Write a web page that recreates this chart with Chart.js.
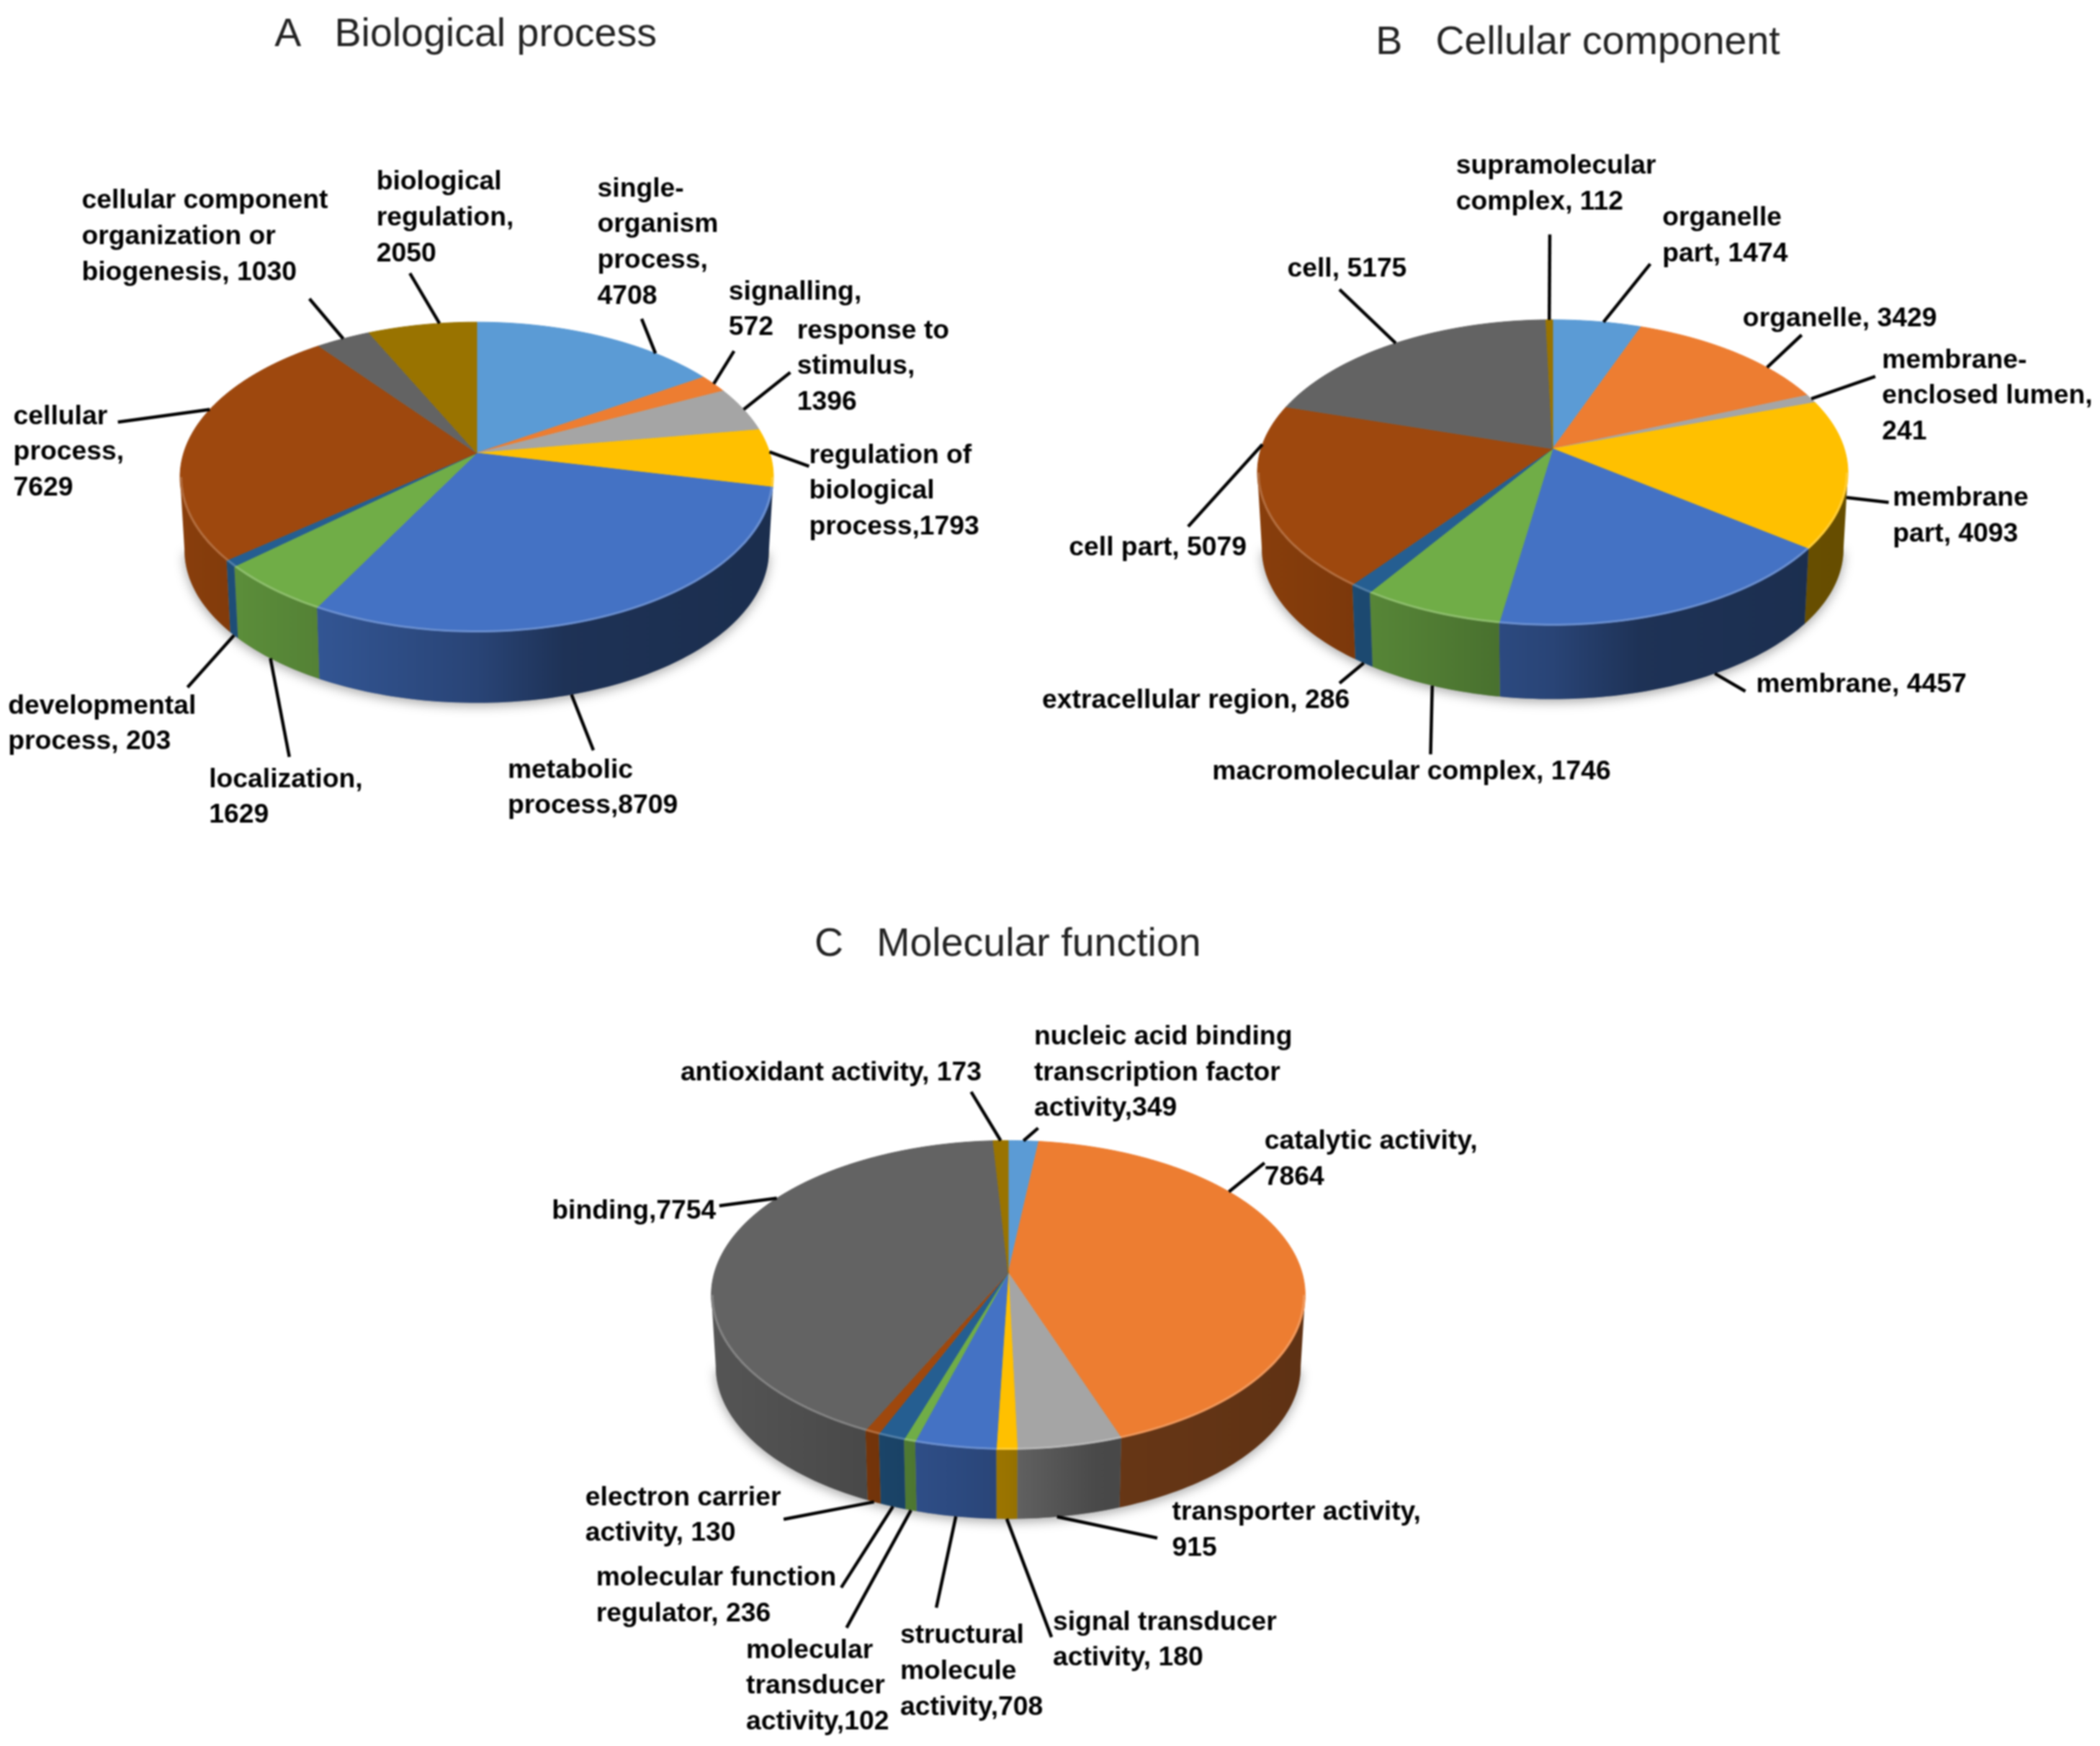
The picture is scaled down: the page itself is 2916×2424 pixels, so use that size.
<!DOCTYPE html>
<html>
<head>
<meta charset="utf-8">
<title>GO classification</title>
<script src="https://cdn.jsdelivr.net/npm/chart.js@4/dist/chart.umd.min.js"></script>
<style>
	html, body { margin: 0; padding: 0; background: #fff; }
	#wrap { position: relative; width: 2916px; height: 2424px; overflow: hidden; filter: blur(0.9px); }
	canvas { position: absolute; left: 0; top: 0; }
</style>
</head>
<body>
<div id="wrap">
	<canvas id="chartA" width="2916" height="2424"></canvas>
	<canvas id="chartB" width="2916" height="2424"></canvas>
	<canvas id="chartC" width="2916" height="2424"></canvas>
</div>
<script>
// DATA
const sliceColors = ["#5B9BD5", "#ED7D31", "#A5A5A5", "#FFC000", "#4472C4", "#70AD47", "#255E91", "#9E480E", "#636363", "#997300"];

const bpTitle = "A   Biological process";
const bpLabels = [
	["single-", "organism", "process,", "4708"],
	["signalling,", "572"],
	["response to", "stimulus,", "1396"],
	["regulation of", "biological", "process,1793"],
	["metabolic", "process,8709"],
	["localization,", "1629"],
	["developmental", "process, 203"],
	["cellular", "process,", "7629"],
	["cellular component", "organization or", "biogenesis, 1030"],
	["biological", "regulation,", "2050"],
];
const bpValues = [4708, 572, 1396, 1793, 8709, 1629, 203, 7629, 1030, 2050];

const ccTitle = "B   Cellular component";
const ccLabels = [
	["organelle", "part, 1474"],
	["organelle, 3429"],
	["membrane-", "enclosed lumen,", "241"],
	["membrane", "part, 4093"],
	["membrane, 4457"],
	["macromolecular complex, 1746"],
	["extracellular region, 286"],
	["cell part, 5079"],
	["cell, 5175"],
	["supramolecular", "complex, 112"],
];
const ccValues = [1474, 3429, 241, 4093, 4457, 1746, 286, 5079, 5175, 112];

const mfTitle = "C   Molecular function";
const mfLabels = [
	["nucleic acid binding", "transcription factor", "activity,349"],
	["catalytic activity,", "7864"],
	["transporter activity,", "915"],
	["signal transducer", "activity, 180"],
	["structural", "molecule", "activity,708"],
	["molecular", "transducer", "activity,102"],
	["molecular function", "regulator, 236"],
	["electron carrier", "activity, 130"],
	["binding,7754"],
	["antioxidant activity, 173"],
];
const mfValues = [349, 7864, 915, 180, 708, 102, 236, 130, 7754, 173];

// LAYOUT (px in the page)
const k = 1.86;
const bpPie = { cx: 662, cy: 629, rx: 407, ry: 210, p: 0.155, h: 102 };
const ccPie = { cx: 2156, cy: 623, rx: 405, ry: 207, p: 0.156, h: 106 };
const mfPie = { cx: 1400, cy: 1767, rx: 408, ry: 210, p: 0.144, h: 100 };

// label x, first line y, leader outer end x, y, position of the leader along the slice
const bpSpots = [
	[446, 141, 479, 238, 0.75], [544, 218, 548, 262, 0.5], [595, 247, 590, 278, 0.5], [604, 340, 604, 348, 0.4],
	[379, 575, 443, 560, 0.58], [156, 582, 216, 565, 0.55], [6, 527, 140, 513, 0.5], [10, 311, 88, 315, 0.62],
	[61, 150, 231, 223, 0.5], [281, 136, 306, 204, 0.66],
];
const ccSpots = [
	[1241, 163, 1232, 197, 0.57], [1301, 238, 1345, 250, 0.7], [1405, 269, 1400, 281, 0.5], [1413, 372, 1410, 375, 0.5],
	[1311, 511, 1303, 516, 0.38], [905, 576, 1068, 563, 0.5], [778, 523, 1000, 510, 0.5], [798, 409, 887, 393, 0.78],
	[961, 201, 1000, 216, 0.5], [1087, 124, 1157, 175, 0.5],
];
const mfSpots = [
	[772, 774, 775, 842, 0.5], [944, 852, 944, 868, 0.31], [875, 1129, 864, 1148, 0.62], [786, 1211, 785, 1222, 0.5],
	[672, 1221, 699, 1200, 0.5], [557, 1232, 632, 1215, 0.5], [445, 1178, 628, 1185, 0.5], [437, 1118, 585, 1134, 0.5],
	[412, 904, 537, 900, 0.64], [508, 801, 725, 815, 0.5],
];

const bottomScale = 0.985;

const shade = (hex, f) => {
	const n = parseInt(hex.slice(1), 16);
	return `rgb(${((n >> 16) & 255) * f},${((n >> 8) & 255) * f},${(n & 255) * f})`;
};

// point of the tilted rim, a = chart.js arc angle
const rim = (g, a, scale = 1, dy = 0) => {
	const u = Math.cos(a), v = Math.sin(a), d = 1 - g.p * v;
	return [g.cx + (g.rx * scale * u) / d, g.cy + dy + (g.ry * scale * v) / d];
};

const arcPath = (ctx, g, from, to, scale, dy, move) => {
	const steps = Math.max(2, Math.ceil(Math.abs(to - from) / 0.02));
	for (let i = 0; i <= steps; i++) {
		const [x, y] = rim(g, from + ((to - from) * i) / steps, scale, dy);
		if (i === 0 && move) ctx.moveTo(x, y);
		else ctx.lineTo(x, y);
	}
};

const wallFill = (ctx, g, color) => {
	const grad = ctx.createLinearGradient(g.cx - g.rx, 0, g.cx + g.rx, 0);
	grad.addColorStop(0, shade(color, 0.86));
	grad.addColorStop(0.25, shade(color, 0.74));
	grad.addColorStop(0.5, shade(color, 0.6));
	grad.addColorStop(0.65, shade(color, 0.44));
	grad.addColorStop(1, shade(color, 0.4));
	return grad;
};

const tiltedPie = (pie, title, titleX, titleY, labels, spots) => ({
	id: "tiltedPie",
	beforeDatasetDraw(chart) {
		const ctx = chart.ctx;
		const arcs = chart.getDatasetMeta(0).data;
		const colors = chart.data.datasets[0].backgroundColor;
		// the library works out centre, radius and angles, only the tilt is added here
		const g = { cx: arcs[0].x, cy: arcs[0].y, rx: arcs[0].outerRadius, ry: pie.ry, p: pie.p, h: pie.h };
		const a0 = Math.asin(g.p), a1 = Math.PI - a0;

		ctx.save();
		ctx.save();
		ctx.shadowColor = "rgba(0,0,0,0.35)";
		ctx.shadowBlur = 16;
		ctx.shadowOffsetY = 4;
		ctx.fillStyle = "#888";
		ctx.beginPath();
		arcPath(ctx, g, a0, a1, bottomScale, g.h, true);
		ctx.closePath();
		ctx.fill();
		ctx.restore();

		arcs.forEach((arc, i) => {
			const from = Math.max(arc.startAngle, a0), to = Math.min(arc.endAngle, a1);
			if (to <= from) return;
			ctx.fillStyle = wallFill(ctx, g, colors[i]);
			ctx.beginPath();
			arcPath(ctx, g, from, to, 1, 0, true);
			arcPath(ctx, g, to, from, bottomScale, g.h, false);
			ctx.closePath();
			ctx.fill();
		});

		arcs.forEach((arc, i) => {
			ctx.fillStyle = colors[i];
			ctx.strokeStyle = colors[i];
			ctx.lineWidth = 1;
			ctx.beginPath();
			ctx.moveTo(g.cx, g.cy);
			arcPath(ctx, g, arc.startAngle, arc.endAngle, 1, 0, false);
			ctx.closePath();
			ctx.fill();
			ctx.stroke();
		});

		// thin light bevel on the front edge
		arcs.forEach((arc) => {
			const from = Math.max(arc.startAngle, a0), to = Math.min(arc.endAngle, a1);
			if (to <= from) return;
			ctx.strokeStyle = "rgba(255,255,255,0.2)";
			ctx.lineWidth = 3;
			ctx.beginPath();
			arcPath(ctx, g, from, to, 0.996, 0, true);
			ctx.stroke();
		});

		// leaders
		ctx.strokeStyle = "#000";
		ctx.lineWidth = 4.5;
		arcs.forEach((arc, i) => {
			const s = spots[i];
			const a = arc.startAngle + (arc.endAngle - arc.startAngle) * s[4];
			const depth = Math.min(1, Math.max(0, Math.sin(a) / 0.5));
			const [x, y] = rim(g, a, 1 - (1 - bottomScale) * depth, g.h * depth);
			ctx.beginPath();
			ctx.moveTo(s[2] * k, s[3] * k);
			ctx.lineTo(x, y);
			ctx.stroke();
		});

		// texts
		ctx.fillStyle = "#000";
		ctx.textBaseline = "middle";
		ctx.textAlign = "left";
		ctx.font = "bold 37.3px 'Liberation Sans'";
		labels.forEach((lines, i) => {
			lines.forEach((line, j) => ctx.fillText(line, spots[i][0] * k, (spots[i][1] + j * 26.7) * k));
		});
		ctx.fillStyle = "#222";
		ctx.font = "55.5px 'Liberation Sans'";
		ctx.fillText(title, titleX * k, (titleY + 2) * k);
		ctx.restore();
		return false;
	},
});

const drawPie = (id, pie, title, titleX, titleY, labels, values, spots) => {
	new Chart(document.getElementById(id).getContext("2d"), {
		type: "pie",
		data: {
			labels: labels.map((lines) => lines.join(" ")),
			datasets: [{ data: values, backgroundColor: sliceColors, borderWidth: 0 }],
		},
		options: {
			responsive: false,
			devicePixelRatio: 1,
			animation: false,
			events: [],
			layout: {
				padding: {
					left: pie.cx - pie.rx,
					right: 2916 - pie.cx - pie.rx,
					top: pie.cy - pie.rx,
					bottom: 2424 - pie.cy - pie.rx,
				},
			},
			plugins: { legend: { display: false }, tooltip: { enabled: false } },
		},
		plugins: [tiltedPie(pie, title, titleX, titleY, labels, spots)],
	});
};

drawPie("chartA", bpPie, bpTitle, 205, 24, bpLabels, bpValues, bpSpots);
drawPie("chartB", ccPie, ccTitle, 1027, 30, ccLabels, ccValues, ccSpots);
drawPie("chartC", mfPie, mfTitle, 608, 703, mfLabels, mfValues, mfSpots);
</script>
</body>
</html>
